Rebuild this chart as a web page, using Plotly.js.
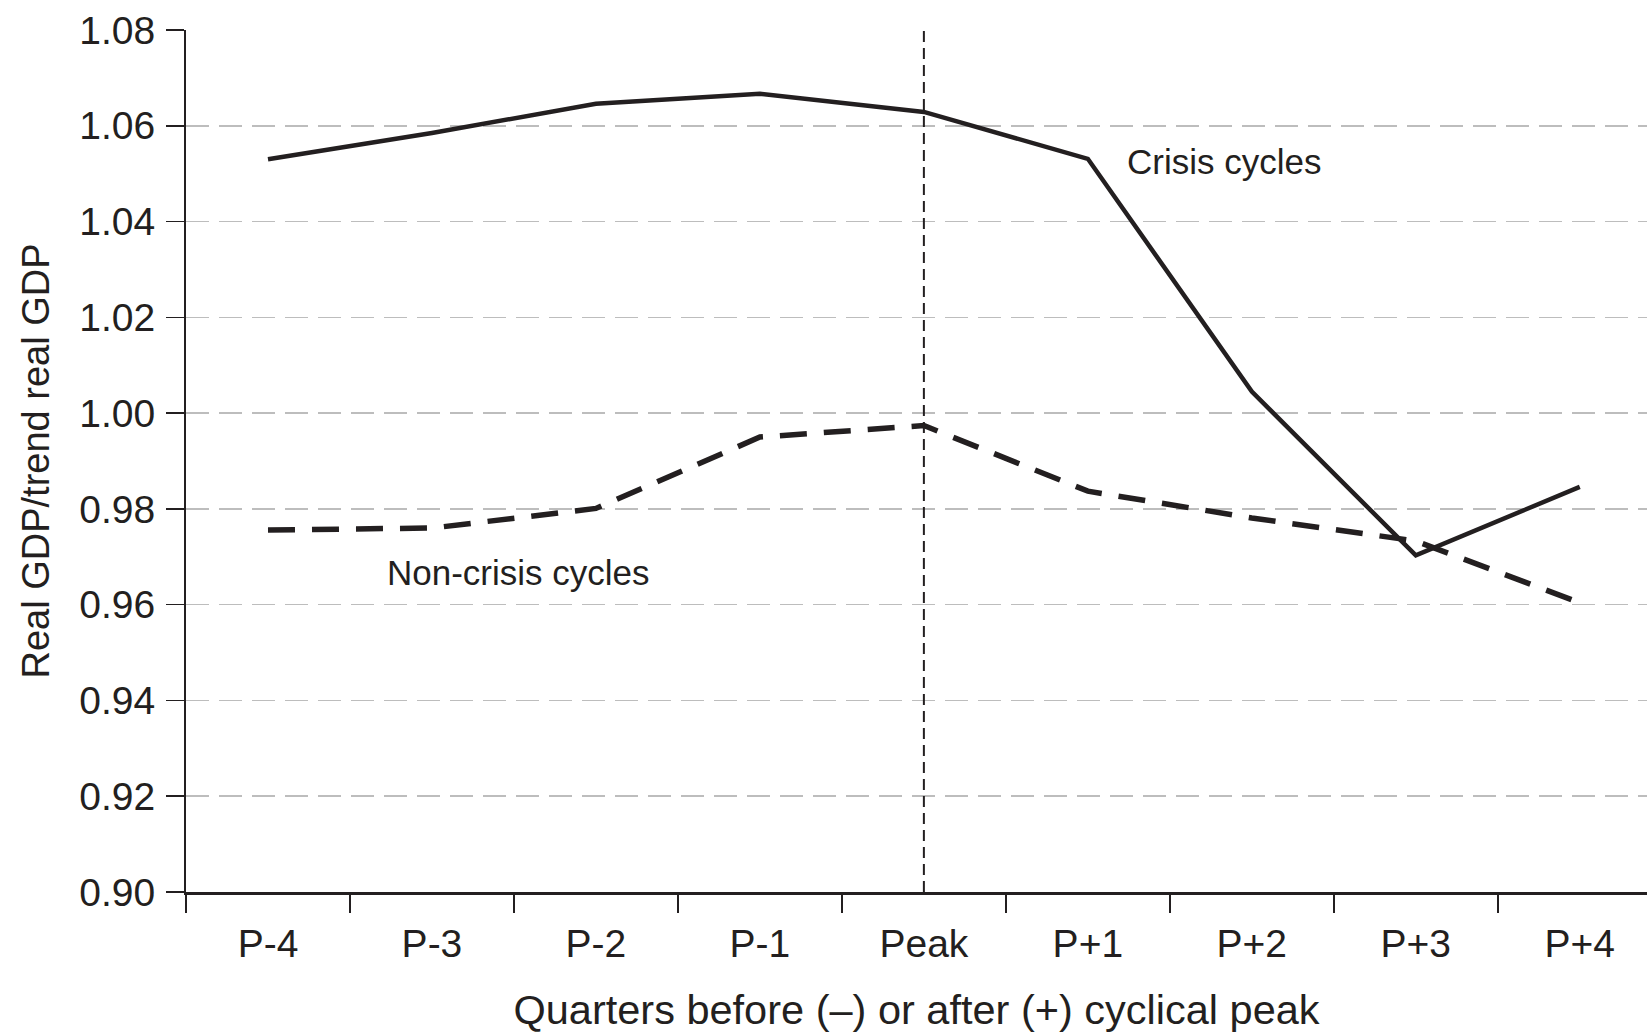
<!DOCTYPE html>
<html>
<head>
<meta charset="utf-8">
<script src="https://cdn.plot.ly/plotly-3.0.1.min.js"></script>
<style>
  html, body { margin: 0; padding: 0; background: #fff; }
  #chart { width: 1647px; height: 1033px; }
</style>
</head>
<body>
<div id="chart"></div>
<script>
// quarters around the cyclical peak
const quarters = ['P-4', 'P-3', 'P-2', 'P-1', 'Peak', 'P+1', 'P+2', 'P+3', 'P+4'];
// real GDP / trend real GDP
const crisisCycles = [1.0530, 1.0585, 1.0646, 1.0667, 1.0629, 1.0531, 1.0045, 0.9703, 0.9846];
const nonCrisisCycles = [0.9756, 0.9760, 0.9801, 0.9950, 0.9974, 0.9837, 0.9781, 0.9733, 0.9604];
const yTicks = [0.90, 0.92, 0.94, 0.96, 0.98, 1.00, 1.02, 1.04, 1.06, 1.08];
const peakLabel = 'Peak';

const sans = '"Liberation Sans", Arial, sans-serif';
const ink = '#231f20';

const traces = [
  {
    x: quarters,
    y: crisisCycles,
    mode: 'lines',
    line: { color: ink, width: 4.5 },
    hoverinfo: 'skip'
  },
  {
    x: quarters,
    y: nonCrisisCycles,
    mode: 'lines',
    line: { color: ink, width: 5.5, dash: '27px,17px' },
    hoverinfo: 'skip'
  }
];

const layout = {
  width: 1647,
  height: 1033,
  margin: { l: 186, r: 0, t: 30, b: 141 },
  paper_bgcolor: '#fff',
  plot_bgcolor: '#fff',
  showlegend: false,
  xaxis: {
    type: 'category',
    categoryorder: 'array',
    categoryarray: quarters,
    range: [-0.5, 8.41],
    tickson: 'boundaries',
    ticks: 'outside',
    ticklen: 18,
    tickwidth: 1.5,
    tickcolor: ink,
    ticklabelstandoff: 15,
    showline: true,
    linecolor: ink,
    linewidth: 3,
    showgrid: false,
    zeroline: false,
    tickfont: { family: sans, size: 39, color: ink },
    title: {
      text: 'Quarters before (\u2013) or after (+) cyclical peak',
      font: { family: sans, size: 41.5, color: ink },
      standoff: 33
    }
  },
  yaxis: {
    range: [0.90, 1.08],
    tickvals: yTicks,
    ticktext: yTicks.map(v => v.toFixed(2)),
    ticks: 'outside',
    ticklen: 18,
    tickwidth: 1.5,
    tickcolor: ink,
    ticklabelstandoff: 3,
    showline: true,
    linecolor: ink,
    linewidth: 2,
    showgrid: true,
    gridcolor: '#bdbdbd',
    gridwidth: 1.5,
    griddash: '23px,10px',
    zeroline: false,
    tickfont: { family: sans, size: 39, color: ink },
    title: {
      text: 'Real GDP/trend real GDP',
      font: { family: sans, size: 38, color: ink },
      standoff: 18
    }
  },
  shapes: [
    {
      type: 'line',
      xref: 'x',
      yref: 'paper',
      x0: peakLabel,
      x1: peakLabel,
      y0: 0,
      y1: 1,
      line: { color: ink, width: 2, dash: '11px,6px' }
    }
  ],
  annotations: [
    {
      x: 5.225, y: 1.0526, xref: 'x', yref: 'y',
      text: 'Crisis cycles',
      showarrow: false,
      xanchor: 'left', yanchor: 'middle',
      font: { family: sans, size: 35, color: ink }
    },
    {
      x: 0.714, y: 0.9667, xref: 'x', yref: 'y',
      text: 'Non-crisis cycles',
      showarrow: false,
      xanchor: 'left', yanchor: 'middle',
      font: { family: sans, size: 35, color: ink }
    }
  ]
};

Plotly.newPlot('chart', traces, layout, { displayModeBar: false, staticPlot: true });
</script>
</body>
</html>
